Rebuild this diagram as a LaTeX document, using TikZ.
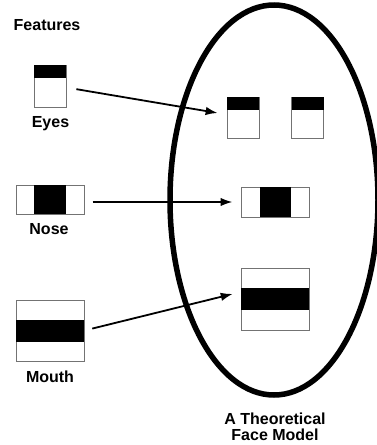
\documentclass[tikz,border=0pt]{standalone}
\usepackage{fontspec}
\setmainfont{Liberation Sans}
\usetikzlibrary{shapes.geometric,arrows.meta,calc}
\begin{document}
\begin{tikzpicture}[x=1pt,y=-1pt,
  lbl/.style={font=\bfseries\fontsize{16}{16}\selectfont, inner sep=0pt, align=center},
  fbox/.style={draw=black!55, line width=1pt, fill=white, inner sep=0pt},
  arr/.style={line width=1.8pt, -{Latex[length=12pt,width=8.5pt]}},
  face/.style={ellipse, draw, line width=5.5pt, inner sep=0pt}]
\useasboundingbox (0,0) rectangle (376,445);
% face outline
\node[face, minimum width=208pt, minimum height=390pt] (face) at (274,200) {};
% titles
\node[lbl, anchor=west] (feat) at (13.5,25.5) {Features};
% feature boxes (left)
\node[fbox, minimum width=32pt, minimum height=42pt] (eyeF) at (50,86) {};
\fill ([xshift=0.5pt,yshift=-0.5pt]eyeF.north west) rectangle ([xshift=-0.5pt,yshift=-13pt]eyeF.north east);
\node[lbl] (eyesL) at (50.5,124) {Eyes};
\node[fbox, minimum width=68pt, minimum height=29pt] (noseF) at (50,199.5) {};
\fill ([xshift=-16pt,yshift=-0.5pt]noseF.north) rectangle ([xshift=16pt,yshift=0.5pt]noseF.south);
\node[lbl] (noseL) at (49,229) {Nose};
\node[fbox, minimum width=68pt, minimum height=61pt] (mouthF) at (50,330.5) {};
\fill ([xshift=0.5pt,yshift=11pt]mouthF.west) rectangle ([xshift=-0.5pt,yshift=-11pt]mouthF.east);
\node[lbl] (mouthL) at (50,377) {Mouth};
% face model boxes
\node[fbox, minimum width=32pt, minimum height=41pt] (eyeM1) at (243,117.5) {};
\fill ([xshift=0.5pt,yshift=-0.5pt]eyeM1.north west) rectangle ([xshift=-0.5pt,yshift=-13pt]eyeM1.north east);
\node[fbox, minimum width=32pt, minimum height=41pt] (eyeM2) at (307.5,117.5) {};
\fill ([xshift=0.5pt,yshift=-0.5pt]eyeM2.north west) rectangle ([xshift=-0.5pt,yshift=-13pt]eyeM2.north east);
\node[fbox, minimum width=68pt, minimum height=30pt] (noseM) at (275,202) {};
\fill ([xshift=-15.5pt,yshift=-0.5pt]noseM.north) rectangle ([xshift=15.5pt,yshift=0.5pt]noseM.south);
\node[fbox, minimum width=68pt, minimum height=62pt] (mouthM) at (275,299) {};
\fill ([xshift=0.5pt,yshift=11pt]mouthM.west) rectangle ([xshift=-0.5pt,yshift=-11pt]mouthM.east);
\node[lbl] (faceL) at (275,427) {A Theoretical\\Face Model};
% arrows
\draw[arr, shorten <=10pt, shorten >=9pt] ([yshift=-1.5pt]eyeF.east) -- ([yshift=3pt]eyeM1.west);
\draw[arr, shorten <=8pt, shorten >=8pt] (noseF.east |- noseM.west) -- (noseM.west);
\draw[arr, shorten <=8pt, shorten >=8pt] ([yshift=0pt]mouthF.east) -- ([yshift=7pt]mouthM.west);
\end{tikzpicture}
\end{document}
